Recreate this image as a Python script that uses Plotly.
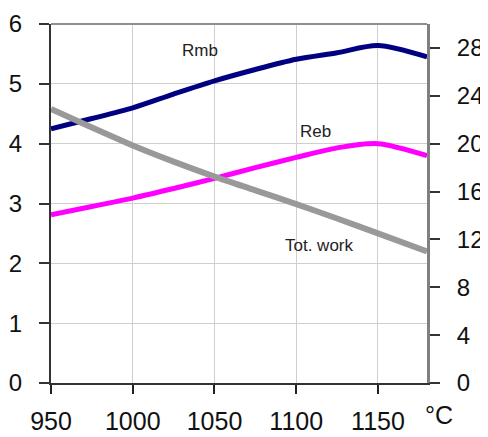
import plotly.graph_objects as go

temps = [950, 975, 1000, 1025, 1050, 1075, 1100, 1125, 1150, 1180]
rmb = [4.25, 4.42, 4.60, 4.83, 5.05, 5.24, 5.41, 5.52, 5.64, 5.45]
reb = [2.81, 2.95, 3.09, 3.25, 3.42, 3.60, 3.77, 3.93, 4.00, 3.80]
tot_work = [22.9, 21.35, 19.85, 18.5, 17.25, 16.1, 14.95, 13.75, 12.5, 11.0]

x_ticks = [950, 1000, 1050, 1100, 1150]
left_ticks = [0, 1, 2, 3, 4, 5, 6]
right_ticks = [0, 4, 8, 12, 16, 20, 24, 28]

FONT = "Liberation Sans, Arial, sans-serif"
TXT = "#111111"

fig = go.Figure()
fig.add_trace(go.Scatter(x=temps, y=rmb, mode="lines", name="Rmb",
                         line=dict(color="#000080", width=5, shape="spline", smoothing=0.8)))
fig.add_trace(go.Scatter(x=temps, y=reb, mode="lines", name="Reb",
                         line=dict(color="#ff00ff", width=5, shape="spline", smoothing=0.8)))
fig.add_trace(go.Scatter(x=temps, y=tot_work, mode="lines", name="Tot. work", yaxis="y2",
                         line=dict(color="#999999", width=6, shape="spline", smoothing=0.8)))

fig.update_layout(
    width=480, height=429,
    margin=dict(l=43, r=61, t=16, b=54, autoexpand=False),
    paper_bgcolor="white", plot_bgcolor="white",
    showlegend=False,
    font=dict(family=FONT, color=TXT),
    xaxis=dict(range=[950, 1180], tickvals=x_ticks, ticks="outside", ticklen=9,
               tickcolor="#222222", tickwidth=1.5, automargin=False,
               showline=True, linecolor="#333333", linewidth=2,
               showgrid=True, gridcolor="#cfcfcf", gridwidth=1,
               zeroline=False, tickfont=dict(size=25, color=TXT),
               ticklabelstandoff=6),
    yaxis=dict(range=[0, 6], tickvals=left_ticks, ticks="outside", ticklen=10,
               tickcolor="#333333", tickwidth=1.5, automargin=False,
               showline=True, linecolor="#333333", linewidth=2,
               showgrid=True, gridcolor="#cfcfcf", gridwidth=1,
               zeroline=False, tickfont=dict(size=24, color=TXT),
               ticklabelstandoff=12),
    yaxis2=dict(range=[0, 30], tickvals=right_ticks, overlaying="y", side="right",
                ticks="outside", ticklen=10, tickcolor="#333333", tickwidth=1.5,
                automargin=False,
                showline=True, linecolor="#808080", linewidth=3,
                showgrid=False, zeroline=False,
                tickfont=dict(size=24, color=TXT), ticklabelstandoff=12),
    shapes=[dict(type="line", xref="paper", yref="paper", x0=0, x1=1, y0=1, y1=1,
                 line=dict(color="#909090", width=2))],
    annotations=[
        dict(x=1041, y=5.55, xref="x", yref="y", text="Rmb", showarrow=False,
             font=dict(size=17, color="#222222")),
        dict(x=1112, y=4.21, xref="x", yref="y", text="Reb", showarrow=False,
             font=dict(size=17, color="#222222")),
        dict(x=1114, y=2.29, xref="x", yref="y", text="Tot. work", showarrow=False,
             font=dict(size=17, color="#222222")),
        dict(x=0.99, y=-0.09, xref="paper", yref="paper", text="°C", showarrow=False,
             xanchor="left", yanchor="middle",
             font=dict(size=25, color=TXT)),
    ],
)

fig.write_html("out.html")
